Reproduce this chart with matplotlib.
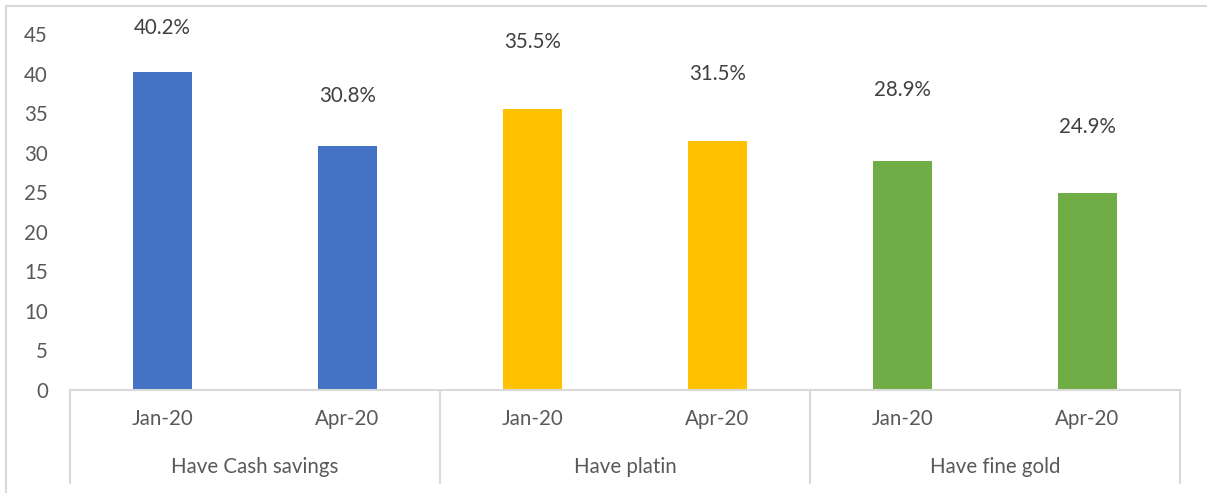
import matplotlib
matplotlib.use("Agg")
import matplotlib.pyplot as plt
import matplotlib.transforms as mtransforms
from matplotlib.patches import Rectangle

groups = ["Have Cash savings", "Have platin", "Have fine gold"]
periods = ["Jan-20", "Apr-20"]
values = [40.2, 30.8, 35.5, 31.5, 28.9, 24.9]
value_labels = ["40.2%", "30.8%", "35.5%", "31.5%", "28.9%", "24.9%"]
yticks = [0, 5, 10, 15, 20, 25, 30, 35, 40, 45]

colors = ["#4472C4", "#4472C4", "#FFC000", "#FFC000", "#70AD47", "#70AD47"]
label_offsets = [5.6, 6.4, 8.5, 8.4, 9.0, 8.3]
text_color = "#595959"
line_color = "#D9D9D9"
fs = 14.8

plt.rcParams['font.family'] = ['Lato', 'DejaVu Sans']

W, H = 1207, 493
fig = plt.figure(figsize=(W / 100, H / 100), dpi=100)
ax = fig.add_axes([70 / W, (H - 390) / H, (1180 - 70) / W, (390 - 34) / H])

x = list(range(len(values)))
ax.bar(x, values, width=0.315, color=colors, zorder=2)
ax.set_xlim(-0.5, len(values) - 0.5)
ax.set_ylim(0, 45)
ax.set_yticks(yticks)
ax.set_yticklabels([str(t) for t in yticks])
ax.tick_params(axis='y', length=0, pad=16, labelsize=fs, labelcolor=text_color)
ax.tick_params(axis='x', length=0, pad=21, labelsize=fs, labelcolor=text_color)
ax.set_xticks(x)
ax.set_xticklabels([p for _ in groups for p in periods])
for t in ax.get_xticklabels():
    t.set_verticalalignment('center')

for s in ["top", "right", "left"]:
    ax.spines[s].set_visible(False)
ax.spines["bottom"].set_color(line_color)
ax.spines["bottom"].set_linewidth(1.5)

for xi, v, lab, off in zip(x, values, value_labels, label_offsets):
    ax.text(xi, v + off, lab, ha='center', va='center', fontsize=fs,
            color='#404040', clip_on=False)

trans = mtransforms.blended_transform_factory(ax.transData, ax.transAxes)
bottom_frac = (390 - 483) / (390 - 34)
for k in range(len(groups) + 1):
    xs = -0.5 + 2 * k
    ax.plot([xs, xs], [0, bottom_frac], transform=trans, color=line_color,
            lw=1.5, clip_on=False)
for g, name in enumerate(groups):
    ax.text(2 * g + 0.5, (390 - 467) / (390 - 34), name, transform=trans,
            ha='center', va='center', fontsize=fs, color=text_color)

fig.patches.append(Rectangle((5.5 / W, -0.1), 1.2, (H - 5.5) / H + 0.1,
                             transform=fig.transFigure, fill=False,
                             edgecolor=line_color, lw=1.5))

fig.savefig("out.png", dpi=100)
